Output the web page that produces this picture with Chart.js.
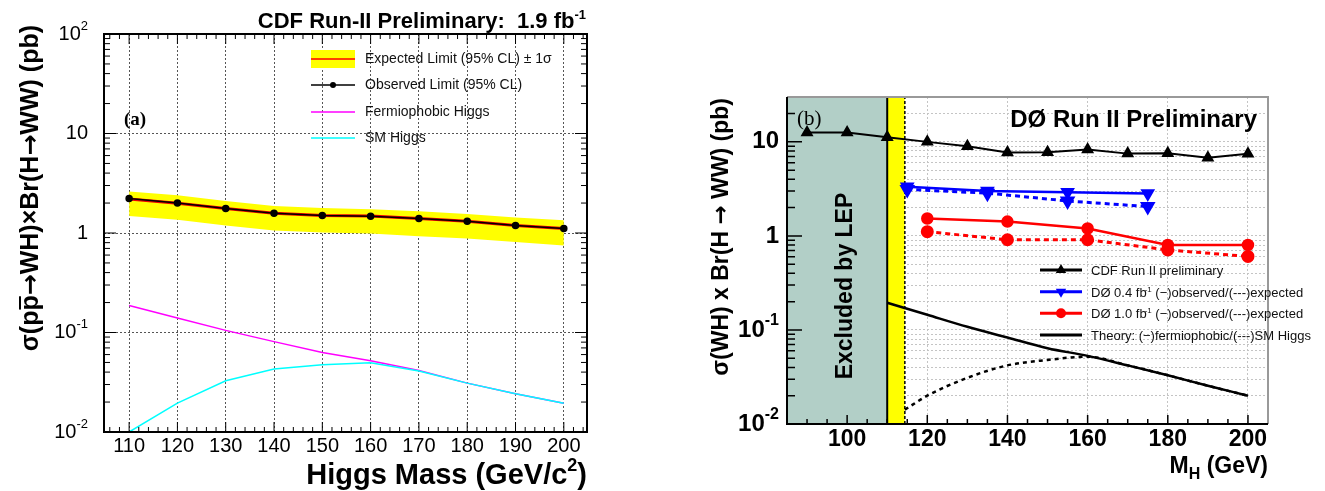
<!DOCTYPE html>
<html>
<head>
<meta charset="utf-8">
<script src="https://cdn.jsdelivr.net/npm/chart.js@4.4.0/dist/chart.umd.min.js"></script>
<style>
  html, body { margin: 0; padding: 0; background: #fff; }
  body { width: 1325px; height: 491px; position: relative; overflow: hidden; }
  canvas { position: absolute; left: 0; top: 0; }
</style>
</head>
<body>
<canvas id="cdfChart" width="1325" height="491"></canvas>
<canvas id="d0Chart" width="1325" height="491"></canvas>
<script>
// ---- Panel (a): CDF limits on sigma(WH) x Br(H->WW) ----
const cdfMass = [110, 120, 130, 140, 150, 160, 170, 180, 190, 200];
const cdfObserved = [2.22, 2.00, 1.76, 1.58, 1.50, 1.47, 1.40, 1.31, 1.19, 1.11];
const cdfExpected = [2.20, 1.99, 1.76, 1.58, 1.50, 1.48, 1.40, 1.31, 1.19, 1.11];
const cdfBandUp = [2.62, 2.39, 2.10, 1.87, 1.78, 1.73, 1.65, 1.55, 1.43, 1.34];
const cdfBandDown = [1.48, 1.36, 1.19, 1.06, 1.01, 0.99, 0.93, 0.88, 0.81, 0.75];
const cdfFermiophobic = [0.187, 0.140, 0.105, 0.081, 0.063, 0.052, 0.0415, 0.031, 0.0242, 0.0195];
const cdfSmHiggs = [0.0100, 0.0195, 0.0327, 0.0429, 0.0473, 0.0496, 0.041, 0.031, 0.0242, 0.0195];
const cdfXLabels = [110, 120, 130, 140, 150, 160, 170, 180, 190, 200];

// ---- Panel (b): D0 / CDF comparison ----
const lepExcluded = [85, 110];
const lepLimit = 114.4;
const bCdfMass = [90, 100, 110, 120, 130, 140, 150, 160, 170, 180, 190, 200];
const bCdfLimit = [12.6, 12.6, 11.2, 10.0, 9.0, 7.7, 7.76, 8.3, 7.5, 7.55, 6.77, 7.46];
const d04Mass = [115, 135, 155, 175];
const d04Observed = [3.33, 3.0, 2.92, 2.83];
const d04Expected = [3.12, 2.85, 2.35, 2.05];
const d10Mass = [120, 140, 160, 180, 200];
const d10Observed = [1.53, 1.42, 1.20, 0.80, 0.80];
const d10Expected = [1.11, 0.91, 0.91, 0.71, 0.605];
const fermioMass = [110, 120, 130, 140, 150, 160, 170, 180, 190, 200];
const fermioTheory = [0.195, 0.145, 0.108, 0.083, 0.064, 0.053, 0.042, 0.033, 0.0255, 0.020];
const smMass = [114.4, 120, 130, 140, 150, 160, 170, 180, 190, 200];
const smTheory = [0.0142, 0.020, 0.031, 0.042, 0.048, 0.052, 0.042, 0.033, 0.0255, 0.020];
const bXLabels = [100, 120, 140, 160, 180, 200];

// decade labels: [mantissa text, exponent text]
const logLabels = { '100': ['10', '2'], '10': ['10', ''], '1': ['1', ''], '0.1': ['10', '-1'], '0.01': ['10', '-2'] };
const SANS = '"Liberation Sans", Arial, Helvetica, sans-serif';
const SERIF = '"Liberation Serif", "Times New Roman", serif';
const ARROW = '"DejaVu Sans", sans-serif';

const pts = (xs, ys) => xs.map((x, i) => ({ x: x, y: ys[i] }));

function logTicks(maxExp) {
  const out = [];
  for (let e = -2; e <= maxExp; e++) {
    for (let m = 1; m <= 9; m++) out.push({ value: +(m * Math.pow(10, e)).toPrecision(3), major: m === 1 });
  }
  return out;
}
function stepTicks(from, to, step, majorStep) {
  const out = [];
  for (let v = from; v <= to + 1e-9; v += step) out.push({ value: v, major: v % majorStep === 0 });
  return out;
}

function inwardTicks(ctx, scale, area, sides, majorLen, minorLen) {
  ctx.beginPath();
  scale.ticks.forEach(t => {
    const len = t.major ? majorLen : minorLen;
    const p = scale.getPixelForValue(t.value);
    if (scale.isHorizontal()) {
      if (p < area.left - 0.5 || p > area.right + 0.5) return;
      if (sides.includes('bottom')) { ctx.moveTo(p, area.bottom); ctx.lineTo(p, area.bottom - len); }
      if (sides.includes('top')) { ctx.moveTo(p, area.top); ctx.lineTo(p, area.top + len); }
    } else {
      if (p < area.top - 0.5 || p > area.bottom + 0.5) return;
      if (sides.includes('left')) { ctx.moveTo(area.left, p); ctx.lineTo(area.left + len, p); }
      if (sides.includes('right')) { ctx.moveTo(area.right, p); ctx.lineTo(area.right - len, p); }
    }
  });
  ctx.stroke();
}

// draw a row of text runs (for superscripts / overline)
function drawRuns(ctx, runs, x, y, align) {
  let total = 0;
  runs.forEach(r => { ctx.font = r.font; r.w = ctx.measureText(r.text).width; total += r.w + (r.dx || 0); });
  let cx = align === 'right' ? x - total : align === 'center' ? x - total / 2 : x;
  ctx.textAlign = 'left';
  runs.forEach(r => {
    ctx.font = r.font;
    cx += r.dx || 0;
    ctx.fillText(r.text, cx, y + (r.dy || 0));
    if (r.overline !== undefined) ctx.fillRect(cx + 1, y + r.overline, r.w - 2, 2);
    cx += r.w;
  });
  return total;
}

// decade labels with a raised exponent, placed from the log scale
function decadeLabels(ctx, scale, rightX, font, supFont, supDy) {
  ctx.fillStyle = '#000';
  ctx.textBaseline = 'middle';
  scale.ticks.forEach(t => {
    const lab = logLabels[String(t.value)];
    if (!lab) return;
    const y = scale.getPixelForValue(t.value);
    const runs = [{ text: lab[0], font: font }];
    if (lab[1]) runs.push({ text: lab[1], font: supFont, dy: supDy });
    drawRuns(ctx, runs, rightX, y, 'right');
  });
}

function marker(ctx, type, x, y, r, color) {
  ctx.fillStyle = color;
  ctx.beginPath();
  if (type === 'circle') {
    ctx.arc(x, y, r, 0, Math.PI * 2);
  } else {
    const s = type === 'up' ? -1 : 1;
    ctx.moveTo(x, y + s * r);
    ctx.lineTo(x + r * 0.866, y - s * r * 0.5);
    ctx.lineTo(x - r * 0.866, y - s * r * 0.5);
    ctx.closePath();
  }
  ctx.fill();
}

// ---------------- Panel (a) ----------------
const cdfDecor = {
  id: 'cdfDecor',
  afterDraw(chart) {
    const { ctx, chartArea: a, scales } = chart;
    ctx.save();
    ctx.strokeStyle = '#000';
    ctx.lineWidth = 1;
    inwardTicks(ctx, scales.x, a, ['bottom', 'top'], 10, 5);
    inwardTicks(ctx, scales.y, a, ['left', 'right'], 12, 6);
    ctx.lineWidth = 2;
    ctx.strokeRect(a.left, a.top, a.width, a.height);

    decadeLabels(ctx, scales.y, 88, '20px ' + SANS, '13px ' + SANS, -8);

    // legend
    ctx.fillStyle = '#ffff00';
    ctx.fillRect(311, 50, 44, 18);
    ctx.strokeStyle = '#ff0000'; ctx.lineWidth = 1.5;
    ctx.beginPath(); ctx.moveTo(311, 59); ctx.lineTo(355, 59); ctx.stroke();
    ctx.strokeStyle = '#000';
    ctx.beginPath(); ctx.moveTo(311, 85); ctx.lineTo(355, 85); ctx.stroke();
    marker(ctx, 'circle', 333, 85, 3, '#000');
    ctx.strokeStyle = '#ff00ff';
    ctx.beginPath(); ctx.moveTo(311, 112); ctx.lineTo(355, 112); ctx.stroke();
    ctx.strokeStyle = '#00ffff';
    ctx.beginPath(); ctx.moveTo(311, 138); ctx.lineTo(355, 138); ctx.stroke();
    ctx.fillStyle = '#111';
    ctx.font = '14px ' + SANS;
    ctx.textBaseline = 'middle';
    ctx.textAlign = 'left';
    ctx.fillText('Expected Limit (95% CL) ± 1σ', 365, 59);
    ctx.fillText('Observed Limit (95% CL)', 365, 85);
    ctx.fillText('Fermiophobic Higgs', 365, 112);
    ctx.fillText('SM Higgs', 365, 138);

    ctx.textBaseline = 'alphabetic';
    ctx.fillStyle = '#000';
    ctx.font = 'bold 19px ' + SERIF;
    ctx.fillText('(a)', 124, 125);

    // title
    drawRuns(ctx, [
      { text: 'CDF Run-II Preliminary:  1.9 fb', font: 'bold 22px ' + SANS },
      { text: '-1', font: 'bold 13px ' + SANS, dy: -9 }
    ], 586, 28, 'right');

    // x title
    drawRuns(ctx, [
      { text: 'Higgs Mass (GeV/c', font: 'bold 29px ' + SANS },
      { text: '2', font: 'bold 18px ' + SANS, dy: -13 },
      { text: ')', font: 'bold 29px ' + SANS }
    ], 587, 484, 'right');

    // y title (rotated)
    ctx.translate(38, 25);
    ctx.rotate(-Math.PI / 2);
    const big = 'bold 25px ' + SANS;
    const arr = 'bold 25px ' + ARROW;
    drawRuns(ctx, [
      { text: 'σ(p', font: big },
      { text: 'p', font: big, overline: -19 },
      { text: '→', font: arr },
      { text: 'WH)×Br(H', font: big },
      { text: '→', font: arr },
      { text: 'WW) (pb)', font: big }
    ], 0, 0, 'right');
    ctx.restore();
  }
};

new Chart(document.getElementById('cdfChart'), {
  type: 'line',
  data: {
    datasets: [
      { label: 'Observed Limit (95% CL)', data: pts(cdfMass, cdfObserved), borderColor: '#000', borderWidth: 1.5,
        pointRadius: 3, pointBackgroundColor: '#000', pointBorderColor: '#000', order: 0 },
      { label: 'Expected Limit (95% CL)', data: pts(cdfMass, cdfExpected), borderColor: '#ee0000', borderWidth: 3,
        pointRadius: 0, order: 1 },
      { label: 'SM Higgs', data: pts(cdfMass, cdfSmHiggs), borderColor: '#00ffff', borderWidth: 1.5, pointRadius: 0, order: 2 },
      { label: 'Fermiophobic Higgs', data: pts(cdfMass, cdfFermiophobic), borderColor: '#ff00ff', borderWidth: 1.5, pointRadius: 0, order: 3 },
      { label: '+1 sigma', data: pts(cdfMass, cdfBandUp), borderColor: 'rgba(0,0,0,0)', backgroundColor: '#ffff00',
        fill: '+1', pointRadius: 0, order: 4 },
      { label: '-1 sigma', data: pts(cdfMass, cdfBandDown), borderColor: 'rgba(0,0,0,0)', fill: false, pointRadius: 0, order: 5 }
    ]
  },
  options: {
    responsive: false,
    animation: false,
    events: [],
    layout: { padding: { left: 0, top: 34, right: 738, bottom: 0 } },
    plugins: { legend: { display: false }, tooltip: { enabled: false } },
    scales: {
      x: {
        type: 'linear', min: 104.8, max: 204.8,
        afterBuildTicks: axis => { axis.ticks = stepTicks(106, 204, 2, 10); },
        afterFit: s => { s.height = 59; },
        ticks: {
          autoSkip: false, maxRotation: 0, padding: 2, color: '#000',
          font: { family: SANS, size: 20 },
          callback: v => (cdfXLabels.includes(v) ? String(v) : '')
        },
        grid: { drawTicks: false, lineWidth: 1, color: c => (c.tick && cdfXLabels.includes(c.tick.value) ? '#555' : 'rgba(0,0,0,0)') },
        border: { display: false, dash: [2, 2] }
      },
      y: {
        type: 'logarithmic', min: 0.01, max: 100,
        afterBuildTicks: axis => { axis.ticks = logTicks(1).concat([{ value: 100, major: true }]); },
        afterFit: s => { s.width = 104; },
        ticks: { autoSkip: false, callback: () => '' },
        grid: { drawTicks: false, lineWidth: 1, color: c => (c.tick && c.tick.major ? '#555' : 'rgba(0,0,0,0)') },
        border: { display: false, dash: [2, 2] }
      }
    }
  },
  plugins: [cdfDecor]
});

// ---------------- Panel (b) ----------------
const d0Decor = {
  id: 'd0Decor',
  afterDraw(chart) {
    const { ctx, chartArea: a, scales } = chart;
    ctx.save();
    ctx.strokeStyle = '#000';
    ctx.lineWidth = 1.5;
    inwardTicks(ctx, scales.x, a, ['bottom'], 9, 5);
    inwardTicks(ctx, scales.y, a, ['left'], 15, 8);
    ctx.lineWidth = 2;
    ctx.strokeStyle = '#999';
    ctx.beginPath();
    ctx.moveTo(a.left, a.top); ctx.lineTo(a.right, a.top); ctx.lineTo(a.right, a.bottom);
    ctx.stroke();
    ctx.strokeStyle = '#000';
    ctx.beginPath();
    ctx.moveTo(a.left, a.top); ctx.lineTo(a.left, a.bottom); ctx.lineTo(a.right, a.bottom);
    ctx.stroke();

    decadeLabels(ctx, scales.y, 779, 'bold 24px ' + SANS, 'bold 16px ' + SANS, -9);

    // legend
    const rows = [
      { y: 270, color: '#000', mk: 'up', runs: [{ text: 'CDF Run II preliminary' }] },
      { y: 291.7, color: '#0000ff', mk: 'down', runs: [{ text: 'DØ 0.4 fb' }, { text: '-1', small: true }, { text: ' (−)observed/(---)expected' }] },
      { y: 313.3, color: '#ff0000', mk: 'circle', runs: [{ text: 'DØ 1.0 fb' }, { text: '-1', small: true }, { text: ' (−)observed/(---)expected' }] },
      { y: 335, color: '#000', mk: null, runs: [{ text: 'Theory: (−)fermiophobic/(---)SM Higgs' }] }
    ];
    rows.forEach(r => {
      ctx.strokeStyle = r.color;
      ctx.lineWidth = 3;
      ctx.beginPath(); ctx.moveTo(1040, r.y); ctx.lineTo(1082, r.y); ctx.stroke();
      if (r.mk) marker(ctx, r.mk, 1061, r.y, r.mk === 'circle' ? 5 : 6, r.color);
      ctx.fillStyle = '#111';
      ctx.textBaseline = 'alphabetic';
      drawRuns(ctx, r.runs.map(p => p.small
        ? { text: p.text, font: '8px ' + SANS, dy: -5, dx: -2 }
        : { text: p.text, font: '13px ' + SANS }), 1091, r.y + 5, 'left');
    });

    ctx.fillStyle = '#000';
    ctx.textBaseline = 'alphabetic';
    ctx.font = '21px ' + SERIF;
    ctx.textAlign = 'left';
    ctx.fillText('(b)', 797, 125);
    ctx.font = 'bold 24px ' + SANS;
    ctx.textAlign = 'right';
    ctx.fillText('DØ Run II Preliminary', 1257, 127);

    // x title
    drawRuns(ctx, [
      { text: 'M', font: 'bold 23px ' + SANS },
      { text: 'H', font: 'bold 16px ' + SANS, dy: 6 },
      { text: ' (GeV)', font: 'bold 23px ' + SANS }
    ], 1268, 473, 'right');

    // excluded-by-LEP label
    ctx.save();
    ctx.translate(852, 286);
    ctx.rotate(-Math.PI / 2);
    ctx.textAlign = 'center';
    ctx.font = 'bold 23px ' + SANS;
    ctx.fillText('Excluded by LEP', 0, 0);
    ctx.restore();

    // y title
    ctx.translate(728, 98);
    ctx.rotate(-Math.PI / 2);
    const big = 'bold 23px ' + SANS;
    drawRuns(ctx, [
      { text: 'σ(WH) x Br(H ', font: big },
      { text: '→', font: 'bold 23px ' + ARROW },
      { text: ' WW) (pb)', font: big }
    ], 0, 0, 'right');
    ctx.restore();
  }
};

const TOP_B = 30;
new Chart(document.getElementById('d0Chart'), {
  type: 'line',
  data: {
    datasets: [
      { label: 'CDF Run II preliminary', data: pts(bCdfMass, bCdfLimit), borderColor: '#000', borderWidth: 2,
        pointStyle: 'triangle', pointRadius: 5.5, pointBackgroundColor: '#000', pointBorderColor: '#000', order: 0 },
      { label: 'D0 0.4 observed', data: pts(d04Mass, d04Observed), borderColor: '#0000ff', borderWidth: 2.5,
        pointStyle: 'triangle', pointRotation: 180, pointRadius: 6, pointBackgroundColor: '#0000ff', pointBorderColor: '#0000ff', order: 1 },
      { label: 'D0 0.4 expected', data: pts(d04Mass, d04Expected), borderColor: '#0000ff', borderWidth: 3, borderDash: [5, 4],
        pointStyle: 'triangle', pointRotation: 180, pointRadius: 6, pointBackgroundColor: '#0000ff', pointBorderColor: '#0000ff', order: 2 },
      { label: 'D0 1.0 observed', data: pts(d10Mass, d10Observed), borderColor: '#ff0000', borderWidth: 2.5,
        pointRadius: 5, pointBackgroundColor: '#ff0000', pointBorderColor: '#ff0000', order: 3 },
      { label: 'D0 1.0 expected', data: pts(d10Mass, d10Expected), borderColor: '#ff0000', borderWidth: 3, borderDash: [5, 4],
        pointRadius: 5, pointBackgroundColor: '#ff0000', pointBorderColor: '#ff0000', order: 4 },
      { label: 'Fermiophobic theory', data: pts(fermioMass, fermioTheory), borderColor: '#000', borderWidth: 2.5,
        pointRadius: 0, cubicInterpolationMode: 'monotone', order: 5 },
      { label: 'SM theory', data: pts(smMass, smTheory), borderColor: '#000', borderWidth: 2.5, borderDash: [4, 4],
        pointRadius: 0, cubicInterpolationMode: 'monotone', order: 6 },
      { label: 'LEP edge', data: [{ x: lepExcluded[1], y: 0.01 }, { x: lepExcluded[1], y: TOP_B }], borderColor: '#000', borderWidth: 2,
        pointRadius: 0, order: 7 },
      { label: 'LEP limit', data: [{ x: lepLimit, y: 0.01 }, { x: lepLimit, y: TOP_B }], borderColor: '#000', borderWidth: 1.5, borderDash: [3, 2],
        pointRadius: 0, order: 8 },
      { label: 'LEP band', data: [{ x: lepExcluded[1], y: TOP_B }, { x: lepLimit, y: TOP_B }], borderColor: 'rgba(0,0,0,0)',
        backgroundColor: '#ffff00', fill: 'start', pointRadius: 0, order: 9 },
      { label: 'Excluded by LEP', data: [{ x: lepExcluded[0], y: TOP_B }, { x: lepExcluded[1], y: TOP_B }], borderColor: 'rgba(0,0,0,0)',
        backgroundColor: '#b2cfc7', fill: 'start', pointRadius: 0, order: 10 }
    ]
  },
  options: {
    responsive: false,
    animation: false,
    events: [],
    layout: { padding: { left: 680, top: 97, right: 57, bottom: 0 } },
    plugins: { legend: { display: false }, tooltip: { enabled: false } },
    scales: {
      x: {
        type: 'linear', min: 85, max: 205,
        afterBuildTicks: axis => { axis.ticks = stepTicks(85, 205, 5, 20); },
        afterFit: s => { s.height = 67; },
        ticks: {
          autoSkip: false, maxRotation: 0, padding: 2, color: '#000',
          font: { family: SANS, size: 23, weight: 'bold' },
          callback: v => (bXLabels.includes(v) ? String(v) : '')
        },
        grid: { drawTicks: false, lineWidth: 1, color: c => (c.tick && c.tick.value % 20 === 0 ? '#c4c4c4' : 'rgba(0,0,0,0)') },
        border: { display: false, dash: [2, 2] }
      },
      y: {
        type: 'logarithmic', min: 0.01, max: TOP_B,
        afterBuildTicks: axis => { axis.ticks = logTicks(1).filter(t => t.value <= TOP_B); },
        afterFit: s => { s.width = 107; },
        ticks: { autoSkip: false, callback: () => '' },
        grid: { drawTicks: false, lineWidth: 1, color: '#c4c4c4' },
        border: { display: false, dash: [2, 2] }
      }
    }
  },
  plugins: [d0Decor]
});
</script>
</body>
</html>
